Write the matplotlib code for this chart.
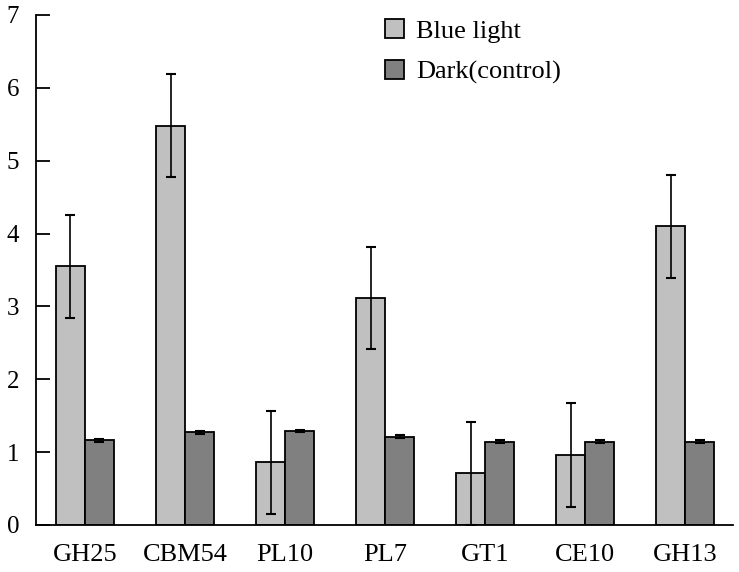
import matplotlib.pyplot as plt
import numpy as np

plt.rcParams['font.family'] = ['Liberation Serif', 'DejaVu Serif']

strains = ['GH25', 'CBM54', 'PL10', 'PL7', 'GT1', 'CE10', 'GH13']
blue = [3.55, 5.48, 0.86, 3.11, 0.71, 0.96, 4.10]
blue_err = [0.71, 0.71, 0.71, 0.70, 0.71, 0.71, 0.71]
dark = [1.16, 1.27, 1.29, 1.21, 1.14, 1.14, 1.14]
dark_err = [0.02, 0.02, 0.02, 0.02, 0.02, 0.02, 0.02]

fig = plt.figure(figsize=(7.39, 5.72), dpi=100)
ax = fig.add_axes([0.0487, 0.0822, 0.9433, 0.8916])

x = np.arange(len(strains))
w = 0.29
ekw = dict(elinewidth=1.2, capthick=1.5)
ax.bar(x - w/2, blue, w, yerr=blue_err, color='#c0c0c0', edgecolor='black',
       linewidth=1.3, capsize=3.6, error_kw=ekw, label='Blue light')
ax.bar(x + w/2, dark, w, yerr=dark_err, color='#808080', edgecolor='black',
       linewidth=1.3, capsize=3.6, error_kw=ekw, label='Dark(control)')

ax.set_xlim(-0.49, 6.48)
ax.set_ylim(0, 7)
ax.set_yticks(range(8))
ax.set_xticks(x)
ax.set_xticklabels(strains)
ax.tick_params(axis='y', direction='in', length=10, width=1.3, labelsize=18, pad=12)
ax.tick_params(axis='x', length=0, labelsize=19, pad=14)
ax.spines['top'].set_visible(False)
ax.spines['right'].set_visible(False)
ax.spines['left'].set_linewidth(1.3)
ax.spines['bottom'].set_linewidth(1.3)

ax.legend(loc='upper left', bbox_to_anchor=(0.485, 1.013), frameon=False,
          fontsize=19, handlelength=0.75, handleheight=0.75, handletextpad=0.45,
          labelspacing=0.65, borderaxespad=0)

fig.savefig('out.png', dpi=100)
